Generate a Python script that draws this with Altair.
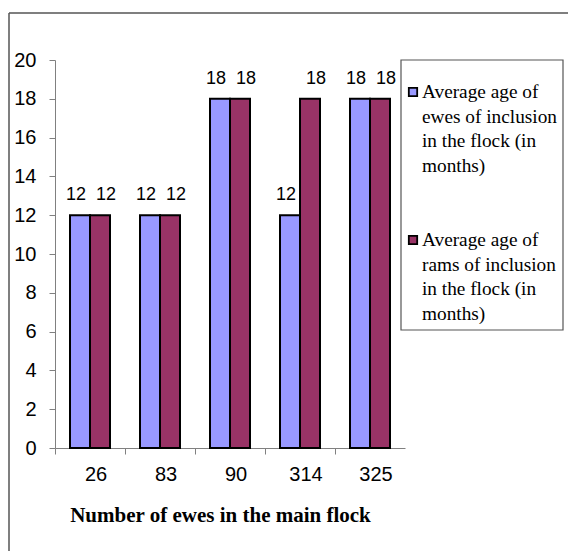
import altair as alt
import pandas as pd

flock_sizes = ["26", "83", "90", "314", "325"]
ewes_age = [12, 12, 18, 12, 18]
rams_age = [12, 12, 18, 18, 18]
series_names = [
    "Average age of ewes of inclusion in the flock (in months)",
    "Average age of rams of inclusion in the flock (in months)",
]
legend_lines = [
    "Average age of\newes of inclusion\nin the flock (in\nmonths)",
    "Average age of\nrams of inclusion\nin the flock (in\nmonths)",
]
colors = ["#9999FF", "#993366"]
y_ticks = list(range(0, 21, 2))

rows = []
for i, f in enumerate(flock_sizes):
    rows.append({"flock": f, "series": series_names[0], "value": ewes_age[i]})
    rows.append({"flock": f, "series": series_names[1], "value": rams_age[i]})
df = pd.DataFrame(rows)

W, H = 350, 388
SANS = "Liberation Sans"
SERIF = "Liberation Serif"

x_enc = alt.X(
    "flock:N",
    sort=flock_sizes,
    scale=alt.Scale(paddingInner=0, paddingOuter=0),
    axis=alt.Axis(
        title="Number of ewes in the main flock",
        titleFont=SERIF,
        titleFontSize=21,
        titleFontWeight="bold",
        titleColor="black",
        titlePadding=20,
        titleX=165,
        labelAngle=0,
        labelFont=SANS,
        labelFontSize=20,
        labelColor="black",
        labelPadding=10,
        labelOffset=6,
        tickSize=6,
        tickColor="#808080",
        domainColor="#808080",
        bandPosition=0,
        grid=False,
    ),
)
xoff = alt.XOffset(
    "series:N",
    sort=series_names,
    scale=alt.Scale(paddingOuter=0.75, paddingInner=0),
)
y_enc = alt.Y(
    "value:Q",
    scale=alt.Scale(domain=[0, 20], nice=False),
    axis=alt.Axis(
        title=None,
        values=y_ticks,
        labelFont=SANS,
        labelFontSize=20,
        labelColor="black",
        labelPadding=13,
        tickSize=6,
        tickColor="#808080",
        domainColor="#808080",
        grid=False,
    ),
)
color_enc = alt.Color(
    "series:N",
    sort=series_names,
    scale=alt.Scale(domain=series_names, range=colors),
    legend=None,
)

base = alt.Chart(df)
bars = base.mark_bar(stroke="black", strokeWidth=2).encode(
    x=x_enc, xOffset=xoff, y=y_enc, color=color_enc
)
label_layers = []
for name, dx in zip(series_names, [-4, 6]):
    label_layers.append(
        base.transform_filter(alt.datum.series == name).mark_text(
            font=SANS, fontSize=18, color="black", baseline="alphabetic", dy=-15, dx=dx
        ).encode(x=x_enc, xOffset=xoff, y=y_enc, text="value:Q")
    )

# frame lines (top and left)
frame_top = alt.Chart(pd.DataFrame({"a": [0]})).mark_rule(
    color="#555555", strokeWidth=1.5
).encode(x=alt.value(-46), x2=alt.value(530), y=alt.value(-47))
frame_left = alt.Chart(pd.DataFrame({"a": [0]})).mark_rule(
    color="#555555", strokeWidth=1.5
).encode(x=alt.value(-46), y=alt.value(-47), y2=alt.value(500))

# legend box
legend_box = alt.Chart(pd.DataFrame({"a": [0]})).mark_rect(
    fill="white", stroke="#555555", strokeWidth=1.2
).encode(x=alt.value(346), x2=alt.value(508), y=alt.value(0), y2=alt.value(270))

legend_layers = []
for i, (name, text) in enumerate(zip(series_names, legend_lines)):
    ybase = 32 + i * 148
    d = pd.DataFrame({"series": [name], "label": [text]})
    sym = alt.Chart(d).mark_square(
        size=70, stroke="black", strokeWidth=1.8, opacity=1
    ).encode(
        x=alt.value(358),
        y=alt.value(ybase),
        color=alt.Color("series:N", scale=alt.Scale(domain=series_names, range=colors), legend=None),
    )
    txt = alt.Chart(d).mark_text(
        font=SERIF, fontSize=19.3, color="black", align="left", baseline="middle",
        lineBreak="\n", lineHeight=24.5
    ).encode(x=alt.value(367), y=alt.value(ybase), text="label:N")
    legend_layers += [sym, txt]

chart = alt.layer(
    frame_top, frame_left, bars, *label_layers, legend_box, *legend_layers
).properties(
    width=W,
    height=H,
    autosize=alt.AutoSizeParams(type="none"),
    padding={"left": 47, "top": 52, "right": 163, "bottom": 103},
).configure_view(stroke=None)

chart.save("out.html", embed_options={"renderer": "svg", "actions": False})
